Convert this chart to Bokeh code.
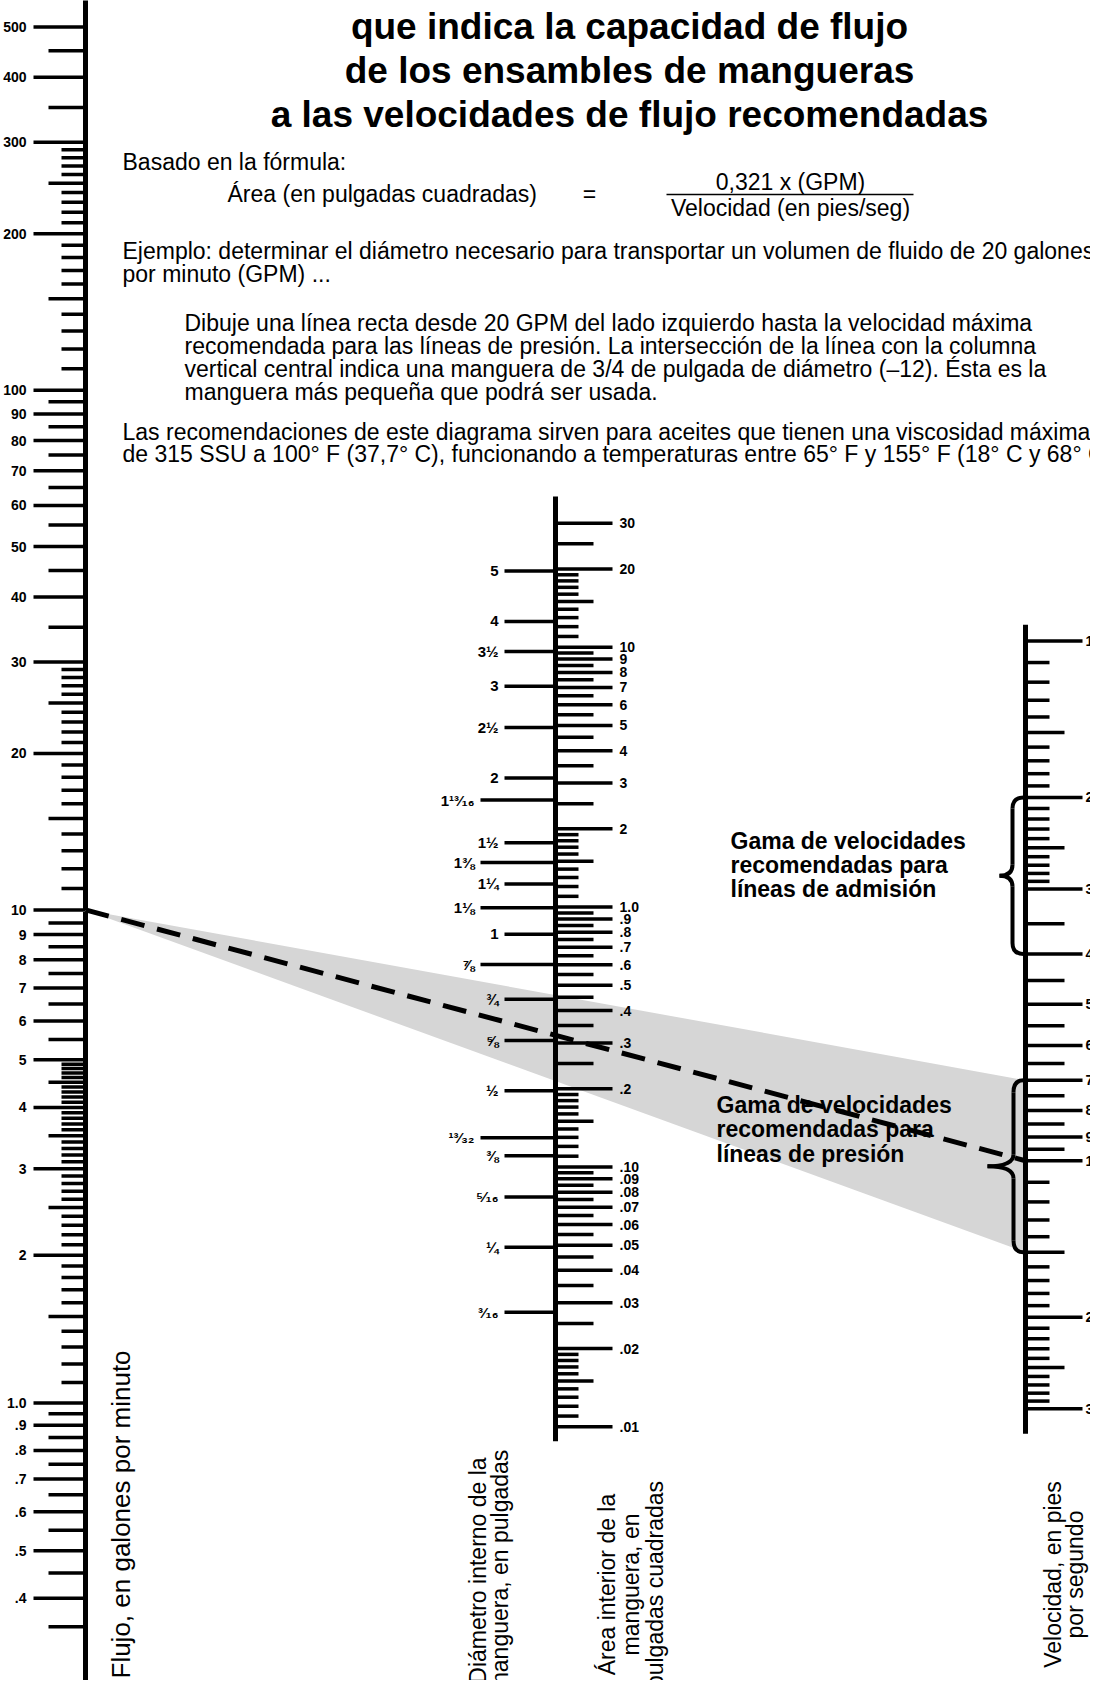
import math
from bokeh.plotting import figure
from bokeh.models import Range1d, LogScale, ColumnDataSource
from bokeh.core.properties import value
from bokeh.embed import file_html
from bokeh.resources import INLINE

# ---------------- data ----------------
FORMULA_K = 0.321  # Area = 0.321 * GPM / velocity

FLOW_LABEL_VALUES = [500, 400, 300, 200, 100, 90, 80, 70, 60, 50, 40, 30, 20, 10,
                     9, 8, 7, 6, 5, 4, 3, 2, 1.0, 0.9, 0.8, 0.7, 0.6, 0.5, 0.4]
FLOW_LABELS = ["500", "400", "300", "200", "100", "90", "80", "70", "60", "50", "40", "30", "20", "10",
               "9", "8", "7", "6", "5", "4", "3", "2", "1.0", ".9", ".8", ".7", ".6", ".5", ".4"]
FLOW_MID_TICKS = [450, 350, 250, 150, 95, 85, 75, 65, 55, 45, 35, 25, 15, 9.5, 8.5, 7.5, 6.5, 5.5,
                  4.5, 3.5, 2.5, 1.5, 0.95, 0.85, 0.75, 0.65, 0.55, 0.45, 0.35]
FLOW_MINOR_TICKS = [290, 280, 270, 260, 240, 230, 220, 210, 190, 180, 170, 160, 140, 130, 120, 110,
                    29, 28, 27, 26, 24, 23, 22, 21, 19, 18, 17, 16, 14, 13, 12, 11,
                    4.9, 4.8, 4.7, 4.6, 4.4, 4.3, 4.2, 4.1, 3.9, 3.8, 3.7, 3.6, 3.4, 3.3, 3.2, 3.1,
                    2.9, 2.8, 2.7, 2.6, 2.4, 2.3, 2.2, 2.1, 1.9, 1.8, 1.7, 1.6, 1.4, 1.3, 1.2, 1.1]
FLOW_AXIS_SPAN = [580, 0.27]

AREA_LABEL_VALUES = [30, 20, 10, 9, 8, 7, 6, 5, 4, 3, 2, 1.0, 0.9, 0.8, 0.7, 0.6, 0.5, 0.4, 0.3, 0.2,
                     0.10, 0.09, 0.08, 0.07, 0.06, 0.05, 0.04, 0.03, 0.02, 0.01]
AREA_LABELS = ["30", "20", "10", "9", "8", "7", "6", "5", "4", "3", "2", "1.0", ".9", ".8", ".7", ".6",
               ".5", ".4", ".3", ".2", ".10", ".09", ".08", ".07", ".06", ".05", ".04", ".03", ".02", ".01"]
AREA_MID_TICKS = [25, 15, 9.5, 8.5, 7.5, 6.5, 5.5, 4.5, 3.5, 2.5, 1.5, 0.95, 0.85, 0.75, 0.65, 0.55,
                  0.45, 0.35, 0.25, 0.15, 0.095, 0.085, 0.075, 0.065, 0.055, 0.045, 0.035, 0.025, 0.015]
AREA_MINOR_TICKS = [19, 18, 17, 16, 14, 13, 12, 11, 1.9, 1.8, 1.7, 1.6, 1.4, 1.3, 1.2, 1.1,
                    0.19, 0.18, 0.17, 0.16, 0.14, 0.13, 0.12, 0.11,
                    0.019, 0.018, 0.017, 0.016, 0.014, 0.013, 0.012, 0.011]
AREA_AXIS_SPAN = [38, 0.0088]

DIAM_VALUES = [5, 4, 3.5, 3, 2.5, 2, 1.8125, 1.5, 1.375, 1.25, 1.125, 1, 0.875, 0.75, 0.625, 0.5,
               0.40625, 0.375, 0.3125, 0.25, 0.1875]
DIAM_LABELS = ["5", "4", "3½", "3", "2½", "2", "1¹³⁄₁₆", "1½", "1⅜", "1¼", "1⅛", "1", "⅞", "¾", "⅝", "½",
               "¹³⁄₃₂", "⅜", "⁵⁄₁₆", "¼", "³⁄₁₆"]

VEL_LABEL_VALUES = [1, 2, 3, 4, 5, 6, 7, 8, 9, 10, 20, 30]
VEL_LABELS = ["1", "2", "3", "4", "5", "6", "7", "8", "9", "10", "20", "30"]
VEL_MID_TICKS = [1.5, 2.5, 3.5, 4.5, 5.5, 6.5, 7.5, 8.5, 9.5, 15, 25]
VEL_MINOR_TICKS = [1.1, 1.2, 1.3, 1.4, 1.6, 1.7, 1.8, 1.9, 2.1, 2.2, 2.3, 2.4, 2.6, 2.7, 2.8, 2.9,
                   11, 12, 13, 14, 16, 17, 18, 19, 21, 22, 23, 24, 26, 27, 28, 29]
VEL_AXIS_SPAN = [0.93, 33.5]

INTAKE_RANGE = [2, 4]       # ft/s, recommended for intake lines
PRESSURE_RANGE = [7, 15]    # ft/s, recommended for pressure lines
EXAMPLE_FLOW = 10           # GPM
EXAMPLE_VELOCITY = 10       # ft/s

TITLE_LINES = ["que indica la capacidad de flujo",
               "de los ensambles de mangueras",
               "a las velocidades de flujo recomendadas"]
PARAGRAPH_LINES = ["Dibuje una línea recta desde 20 GPM del lado izquierdo hasta la velocidad máxima",
                   "recomendada para las líneas de presión. La intersección de la línea con la columna",
                   "vertical central indica una manguera de 3/4 de pulgada de diámetro (–12). Ésta es la",
                   "manguera más pequeña que podrá ser usada."]
NOTE_LINES = ["Las recomendaciones de este diagrama sirven para aceites que tienen una viscosidad máxima",
              "de 315 SSU a 100° F (37,7° C), funcionando a temperaturas entre 65° F y 155° F (18° C y 68° C)"]
INTAKE_TEXT = ["Gama de velocidades", "recomendadas para", "líneas de admisión"]
PRESSURE_TEXT = ["Gama de velocidades", "recomendadas para", "líneas de presión"]

# ---------------- layout / style ----------------
FONT = "Liberation Sans"
W, H = 1090, 1680
# nomogram scale layout (values at the frame's top and bottom edges)
FLOW_TOP, FLOW_BOTTOM = 562.0, 0.3291          # upper flow column (>= 10 GPM)
FLOW_LO_TOP, FLOW_LO_BOTTOM = 720.0, 0.2719    # lower flow column (<= 10 GPM), as printed
ALIGN_C = 32.91                                # flow/velocity alignment of the outer columns
X_FLOW, X_AREA, X_VEL = 93, 563, 1033
DIAM_WIDE = {1.8125, 1.375, 1.125, 0.875, 0.40625}

p = figure(width=W, height=H, output_backend="svg", toolbar_location=None, title=None,
           x_range=Range1d(8, 8 + W), y_range=Range1d(8 + H, 8), min_border=0,
           x_axis_type=None, y_axis_type=None)
p.outline_line_color = None
p.grid.visible = False
p.background_fill_color = "white"
p.border_fill_color = "white"

p.extra_y_ranges = {
    "flow": Range1d(start=FLOW_BOTTOM, end=FLOW_TOP),
    "flow_lo": Range1d(start=FLOW_LO_BOTTOM, end=FLOW_LO_TOP),
    "vel": Range1d(start=ALIGN_C / FLOW_BOTTOM, end=ALIGN_C / FLOW_TOP),
    "area": Range1d(start=FORMULA_K * FLOW_BOTTOM ** 2 / ALIGN_C, end=FORMULA_K * FLOW_TOP ** 2 / ALIGN_C),
}
p.extra_y_scales = {"flow": LogScale(), "flow_lo": LogScale(), "vel": LogScale(), "area": LogScale()}

# shaded band: from the example flow to the pressure-line velocity range
p.patch(x=[X_FLOW, X_VEL, X_VEL],
        y=[ALIGN_C / EXAMPLE_FLOW, PRESSURE_RANGE[0], PRESSURE_RANGE[1]],
        y_range_name="vel", fill_color="#d6d6d6", line_color=None)


def ticks(vals, x0, x1, rng, lw=3.5):
    if not vals:
        return
    src = ColumnDataSource(dict(y=vals))
    p.segment(x0=x0, y0="y", x1=x1, y1="y", source=src, y_range_name=rng,
              line_color="black", line_width=lw)


def tick_labels(vals, labels, x, rng, align, size=14):
    if not vals:
        return
    src = ColumnDataSource(dict(y=vals, t=labels))
    p.text(x=x, y="y", text="t", source=src, y_range_name=rng,
           text_font=value(FONT), text_font_size=f"{size}px", text_font_style="bold",
           text_align=align, text_baseline="middle", text_color="black")


def flow_split(vals, labels=None):
    hi = [i for i, v in enumerate(vals) if v >= EXAMPLE_FLOW]
    lo = [i for i, v in enumerate(vals) if v < EXAMPLE_FLOW]
    out = []
    for idx, rng in ((hi, "flow"), (lo, "flow_lo")):
        out.append((rng, [vals[i] for i in idx], [labels[i] for i in idx] if labels else None))
    return out


# flow scale (left)
p.line(x=[X_FLOW, X_FLOW], y=[FLOW_AXIS_SPAN[0], EXAMPLE_FLOW], y_range_name="flow",
       line_color="black", line_width=5)
p.line(x=[X_FLOW, X_FLOW], y=[EXAMPLE_FLOW, FLOW_AXIS_SPAN[1]], y_range_name="flow_lo",
       line_color="black", line_width=5)
for rng, v, l in flow_split(FLOW_LABEL_VALUES, FLOW_LABELS):
    ticks(v, 41, X_FLOW, rng)
    tick_labels(v, l, 34, rng, "right")
for rng, v, _ in flow_split(FLOW_MID_TICKS):
    ticks(v, 56, X_FLOW, rng)
for rng, v, _ in flow_split(FLOW_MINOR_TICKS):
    ticks(v, 69, X_FLOW, rng)

# area scale (middle, right side)
p.line(x=[X_AREA, X_AREA], y=AREA_AXIS_SPAN, y_range_name="area", line_color="black", line_width=5)
ticks(AREA_LABEL_VALUES, X_AREA, 620, "area")
ticks(AREA_MID_TICKS, X_AREA, 601, "area")
ticks(AREA_MINOR_TICKS, X_AREA, 586, "area")
tick_labels(AREA_LABEL_VALUES, AREA_LABELS, 627, "area", "left")

# diameter scale (middle, left side): area = pi d^2 / 4
diam_area = [math.pi * d * d / 4 for d in DIAM_VALUES]
wide = [d in DIAM_WIDE for d in DIAM_VALUES]
ticks([a for a, w in zip(diam_area, wide) if not w], 512, X_AREA, "area")
ticks([a for a, w in zip(diam_area, wide) if w], 488, X_AREA, "area")
tick_labels([a for a, w in zip(diam_area, wide) if not w],
            [l for l, w in zip(DIAM_LABELS, wide) if not w], 506, "area", "right", 15)
tick_labels([a for a, w in zip(diam_area, wide) if w],
            [l for l, w in zip(DIAM_LABELS, wide) if w], 482, "area", "right", 15)

# velocity scale (right)
p.line(x=[X_VEL, X_VEL], y=VEL_AXIS_SPAN, y_range_name="vel", line_color="black", line_width=5)
ticks(VEL_LABEL_VALUES, X_VEL, 1090, "vel")
ticks(VEL_MID_TICKS, X_VEL, 1072, "vel")
ticks(VEL_MINOR_TICKS, X_VEL, 1057, "vel")
tick_labels(VEL_LABEL_VALUES, VEL_LABELS, 1093, "vel", "left")


# curly braces marking the recommended ranges
def brace(lo, hi, x_end, x_mid, x_tip):
    def at(t):
        return lo * (hi / lo) ** t
    kw = dict(y_range_name="vel", line_color="black", line_width=4)
    p.quadratic(x0=[x_end], y0=[at(0)], x1=[x_mid], y1=[at(0.07)], cx=[x_mid], cy=[at(0)], **kw)
    p.line(x=[x_mid, x_mid], y=[at(0.07), at(0.43)], **kw)
    p.quadratic(x0=[x_mid], y0=[at(0.43)], x1=[x_tip], y1=[at(0.5)], cx=[x_mid], cy=[at(0.5)], **kw)
    p.quadratic(x0=[x_tip], y0=[at(0.5)], x1=[x_mid], y1=[at(0.57)], cx=[x_mid], cy=[at(0.5)], **kw)
    p.line(x=[x_mid, x_mid], y=[at(0.57), at(0.93)], **kw)
    p.quadratic(x0=[x_mid], y0=[at(0.93)], x1=[x_end], y1=[at(1)], cx=[x_mid], cy=[at(1)], **kw)


brace(INTAKE_RANGE[0], INTAKE_RANGE[1], 1031, 1020, 1007)
brace(PRESSURE_RANGE[0], PRESSURE_RANGE[1], 1031, 1021, 995)

# example line
p.line(x=[X_FLOW, X_VEL], y=[ALIGN_C / EXAMPLE_FLOW, EXAMPLE_VELOCITY], y_range_name="vel",
       line_color="black", line_width=5, line_dash="24 13")


# ---------------- texts ----------------
def label(x, y, s, size=23, bold=False, align="left", angle=0.0):
    p.text(x=[x], y=[y], text=[s], text_font=value(FONT), text_font_size=f"{size}px",
           text_font_style="bold" if bold else "normal", text_align=align,
           text_baseline="middle", angle=angle, text_color="black")


for i, t in enumerate(TITLE_LINES):
    label(637, 34 + 44 * i, t, size=37, bold=True, align="center")

label(130, 169, "Basado en la fórmula:")
label(235, 201, "Área (en pulgadas cuadradas)")
label(597, 201, "=", align="center")
label(798, 189, "0,321 x (GPM)", align="center")
p.segment(x0=[674], y0=[202], x1=[921], y1=[202], line_color="black", line_width=1.5)
label(798, 215, "Velocidad (en pies/seg)", align="center")

label(130, 258, "Ejemplo: determinar el diámetro necesario para transportar un volumen de fluido de 20 galones")
label(130, 281, "por minuto (GPM) ...")
for i, t in enumerate(PARAGRAPH_LINES):
    label(192, 330 + 23.3 * i, t)
for i, t in enumerate(NOTE_LINES):
    label(130, 439 + 22.8 * i, t)

for i, t in enumerate(INTAKE_TEXT):
    label(738, 848 + 24 * i, t, bold=True)
for i, t in enumerate(PRESSURE_TEXT):
    label(724, 1112 + 24.5 * i, t, bold=True)

up = math.pi / 2
label(128, 1686, "Flujo, en galones por minuto", size=26, angle=up)
label(485, 1578, "Diámetro interno de la", align="center", angle=up)
label(507, 1578, "manguera, en pulgadas", align="center", angle=up)
label(614, 1592, "Área interior de la", align="center", angle=up)
label(638, 1592, "manguera, en", align="center", angle=up)
label(662, 1592, "pulgadas cuadradas", align="center", angle=up)
label(1060, 1582, "Velocidad, en pies", align="center", angle=up)
label(1082, 1582, "por segundo", align="center", angle=up)

open("out.html", "w").write(file_html(p, INLINE))
